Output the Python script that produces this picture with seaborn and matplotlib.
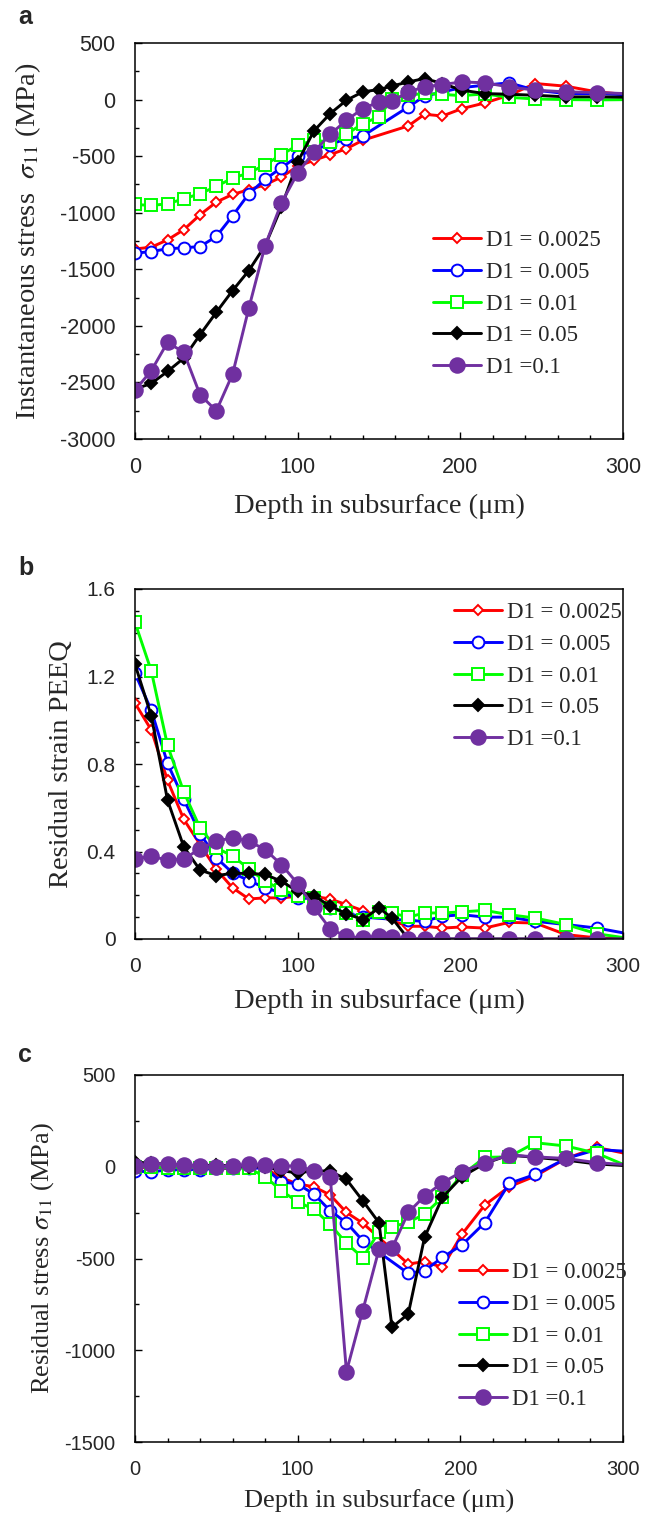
import numpy as np
import pandas as pd
import matplotlib
matplotlib.use("Agg")
import matplotlib.pyplot as plt
import seaborn as sns
from matplotlib.ticker import MultipleLocator

# depth nodes (um); the two finer meshes have extra nodes at 150 and 158
depth_coarse = [0, 10, 20, 30, 40, 50, 60, 70, 80, 90, 100, 110, 120, 130, 140,
                168, 178, 189, 201, 215, 230, 246, 265, 284, 306]
depth_fine = [0, 10, 20, 30, 40, 50, 60, 70, 80, 90, 100, 110, 120, 130, 140, 150, 158,
              168, 178, 189, 201, 215, 230, 246, 265, 284, 306]

labels = ["D1 = 0.0025", "D1 = 0.005", "D1 = 0.01", "D1 = 0.05", "D1 =0.1"]

# a) instantaneous stress (MPa)
inst_0025 = [-1320, -1305, -1240, -1150, -1018, -906, -838, -797, -753, -685, -590, -537, -487,
             -434, -360, -233, -130, -145, -80, -30, 38, 142, 118, 68, 40]
inst_005 = [-1358, -1343, -1319, -1310, -1299, -1210, -1027, -832, -705, -602, -502, -440, -398,
            -345, -322, -65, 30, 68, 106, 127, 148, 83, 53, 53, 40]
inst_01 = [-927, -936, -921, -877, -832, -767, -694, -649, -576, -487, -404, -360, -375, -307,
           -212, -153, 9, 38, 55, 45, 35, 50, 20, 5, 0, -3, 0]
inst_05 = [-2559, -2509, -2403, -2285, -2078, -1880, -1688, -1511, -1290, -950, -552, -277, -124,
           -6, 68, 89, 120, 156, 186, 142, 83, 53, 47, 38, 24, 24, 20]
inst_1 = [-2568, -2397, -2146, -2234, -2609, -2751, -2426, -1842, -1290, -915, -649, -463, -307,
          -183, -80, -21, -15, 68, 112, 133, 156, 148, 112, 83, 68, 62, 50]

# b) residual strain PEEQ
peeq_0025 = [1.078, 0.956, 0.725, 0.547, 0.432, 0.318, 0.234, 0.183, 0.188, 0.188, 0.195, 0.195,
             0.183, 0.157, 0.130, 0.058, 0.058, 0.050, 0.055, 0.050, 0.076, 0.073, 0.020, 0.005, 0.0]
peeq_005 = [1.215, 1.046, 0.803, 0.638, 0.482, 0.371, 0.302, 0.267, 0.234, 0.211, 0.188, 0.185,
            0.142, 0.119, 0.100, 0.085, 0.081, 0.104, 0.111, 0.100, 0.100, 0.081, 0.066, 0.050, 0.020]
peeq_01 = [1.447, 1.226, 0.885, 0.672, 0.508, 0.417, 0.379, 0.321, 0.264, 0.226, 0.198, 0.188,
           0.142, 0.119, 0.089, 0.122, 0.119, 0.100, 0.119, 0.119, 0.124, 0.131, 0.111, 0.096,
           0.066, 0.024, 0.0]
peeq_05 = [1.256, 1.020, 0.635, 0.421, 0.315, 0.290, 0.300, 0.300, 0.295, 0.264, 0.218, 0.198,
           0.150, 0.116, 0.089, 0.142, 0.096, 0.0, 0.0, 0.0, 0.0, 0.0, 0.0, 0.0, 0.0, 0.0, 0.0]
peeq_1 = [0.366, 0.379, 0.360, 0.366, 0.412, 0.447, 0.463, 0.447, 0.409, 0.340, 0.253, 0.145,
          0.046, 0.012, 0.005, 0.015, 0.009, 0.0, 0.0, 0.0, 0.0, 0.0, 0.0, 0.0, 0.0, 0.0, 0.0]

# c) residual stress (MPa)
res_0025 = [-9, 0, -9, -18, -9, -9, -9, 0, -9, -60, -94, -109, -154, -249, -307, -530, -517,
            -548, -368, -209, -109, -51, 45, 105, 64]
res_005 = [-24, -27, -18, -15, -15, -9, -5, -5, -9, -82, -94, -149, -240, -305, -403, -581, -566,
           -494, -426, -305, -91, -42, 45, 94, 82]
res_01 = [0, 0, -5, -5, -5, -5, -5, -9, -54, -131, -191, -232, -314, -417, -495, -354, -327,
          -303, -258, -167, -45, 51, 54, 131, 113, 73, -9]
res_05 = [27, 18, 15, 9, 5, 9, 4, 0, 0, -22, -33, -22, -24, -69, -185, -305, -875, -802, -385,
          -167, -54, 18, 64, 51, 36, 15, 4]
res_1 = [4, 15, 15, 9, 4, 0, 5, 13, 9, 4, 4, -22, -54, -1116, -784, -450, -445, -249, -160, -87,
         -27, 22, 64, 54, 45, 22, 9]

sns.set_theme(style="ticks")
plt.rcParams["font.family"] = ["Liberation Sans", "DejaVu Sans"]
plt.rcParams["mathtext.fontset"] = "stix"
plt.rcParams["axes.unicode_minus"] = False

SERIF = ["Liberation Serif", "DejaVu Serif"]
W, H = 654, 1516

# marker style per series: (color, marker, size, filled)
styles = [
    ("#FF0000", "D", 5.5, False),
    ("#0000FF", "o", 8.5, False),
    ("#00FF00", "s", 8.0, False),
    ("#000000", "D", 6.0, True),
    ("#7030A0", "o", 10.5, True),
]

fig = plt.figure(figsize=(W / 100, H / 100), dpi=100)


def make_axes(top, bottom):
    return fig.add_axes([135 / W, 1 - bottom / H, 488 / W, (bottom - top) / H])


def draw(ax, series, ylim, ymajor, yminor, ylabel, ylab_x, xlab_y, leg_xy, top, bottom,
         tick_fs, label_fs, yfmt=None):
    xs = [depth_coarse, depth_coarse, depth_fine, depth_fine, depth_fine]
    for x, y, lab, (col, mk, ms, filled) in zip(xs, series, labels, styles):
        df = pd.DataFrame({"depth": x, "val": y})
        sns.lineplot(data=df, x="depth", y="val", ax=ax, color=col, linewidth=2.1,
                     marker=mk, markersize=ms, markeredgecolor=col,
                     markerfacecolor=col if filled else "white",
                     markeredgewidth=1.4, label=lab, sort=False)
    ax.set_xlim(0, 300)
    ax.set_ylim(*ylim)
    ax.xaxis.set_major_locator(MultipleLocator(100))
    ax.xaxis.set_minor_locator(MultipleLocator(20))
    ax.yaxis.set_major_locator(MultipleLocator(ymajor))
    ax.yaxis.set_minor_locator(MultipleLocator(yminor))
    if yfmt:
        ax.yaxis.set_major_formatter(yfmt)
    ax.tick_params(which="both", direction="in", width=1, color="black",
                   top=False, right=False)
    ax.tick_params(which="major", length=5)
    ax.tick_params(which="minor", length=3)
    ax.tick_params(axis="y", which="major", pad=14, labelsize=tick_fs)
    ax.tick_params(axis="x", which="major", pad=13, labelsize=tick_fs)
    for sp in ax.spines.values():
        sp.set_linewidth(1.1)
        sp.set_color("black")
        sp.set_visible(True)
    ax.set_xlabel("Depth in subsurface (\u03bcm)", family=SERIF, fontsize=label_fs, va="center")
    ax.xaxis.set_label_coords(0.5, (bottom - xlab_y) / (bottom - top))
    ax.set_ylabel(ylabel, family=SERIF, fontsize=label_fs, va="center")
    ax.yaxis.set_label_coords((ylab_x - 135) / 488, 0.5)
    lx, ly = leg_xy
    ax.legend(loc="upper left", bbox_to_anchor=((lx - 135) / 488, (bottom - ly) / (bottom - top)),
              frameon=False, borderpad=0, borderaxespad=0, handlelength=2.1,
              handletextpad=0.2, labelspacing=0.47, prop={"family": SERIF, "size": 16.5})


ax_a = make_axes(43, 439)
draw(ax_a, [inst_0025, inst_005, inst_01, inst_05, inst_1], (-3000, 500), 500, 250,
     "Instantaneous stress  $\\sigma_{\\mathit{11}}$ (MPa)", 28, 506, (433, 230), 43, 439,
     15.5, 20.5)

ax_b = make_axes(589, 939)
draw(ax_b, [peeq_0025, peeq_005, peeq_01, peeq_05, peeq_1], (0, 1.6), 0.4, 0.1,
     "Residual strain PEEQ", 62, 1001, (454, 602), 589, 939, 15, 20.5,
     yfmt=plt.FuncFormatter(lambda v, p: "0" if abs(v) < 1e-9 else f"{v:.1f}"))

ax_c = make_axes(1075, 1442)
draw(ax_c, [res_0025, res_005, res_01, res_05, res_1], (-1500, 500), 500, 250,
     "Residual stress $\\sigma_{\\mathit{11}}$ (MPa)", 43, 1501, (459, 1262), 1075, 1442,
     14.5, 19)

for letter, yb in [("a", 24), ("b", 575), ("c", 1062)]:
    fig.text(18 / W, 1 - yb / H, letter, fontsize=18, fontweight="bold",
             family=["Liberation Sans", "DejaVu Sans"], va="baseline", ha="left")

fig.savefig("out.png", dpi=100)
